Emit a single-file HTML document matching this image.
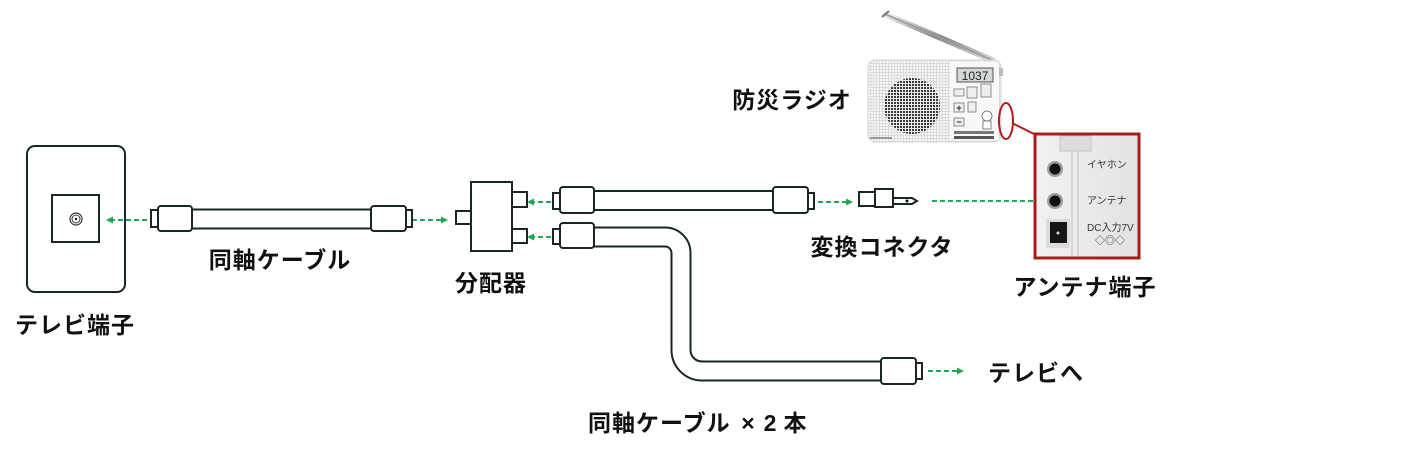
<!DOCTYPE html>
<html><head><meta charset="utf-8">
<style>
html,body{margin:0;padding:0;background:#fff;}
body{width:1421px;height:454px;overflow:hidden;}
svg{display:block;}
.t{font-family:"Liberation Sans","Noto Sans CJK JP",sans-serif;font-weight:bold;font-size:23px;fill:#111;letter-spacing:1px;}
.s{font-family:"Liberation Sans","Noto Sans CJK JP",sans-serif;font-size:10px;fill:#333;}
</style></head><body>
<svg width="1421" height="454" viewBox="0 0 1421 454" xmlns="http://www.w3.org/2000/svg">
<defs>
<pattern id="grid" width="3" height="3" patternUnits="userSpaceOnUse">
<rect width="3" height="3" fill="#f7f7f7"/><rect x="0" y="0" width="3" height="1" fill="#dadada"/><rect x="0" y="0" width="1" height="3" fill="#dadada"/>
</pattern>
<pattern id="spk" width="3" height="3" patternUnits="userSpaceOnUse">
<rect width="3" height="3" fill="#ececec"/><rect x="0" y="0" width="2" height="2" fill="#3a3a3a"/>
</pattern>
<linearGradient id="ant" x1="0" y1="0" x2="0" y2="1">
<stop offset="0" stop-color="#eee"/><stop offset="0.5" stop-color="#8a8a8a"/><stop offset="1" stop-color="#d8d8d8"/>
</linearGradient>
<linearGradient id="panel" x1="0" y1="0" x2="1" y2="0">
<stop offset="0" stop-color="#f2f2f2"/><stop offset="1" stop-color="#e2e2e2"/>
</linearGradient>
</defs>

<!-- TV wall plate -->
<rect x="27" y="146" width="98" height="146" rx="8" fill="#fff" stroke="#1b2526" stroke-width="2"/>
<rect x="52" y="195" width="47" height="47" fill="#fff" stroke="#1b2526" stroke-width="2"/>
<circle cx="76" cy="219" r="6" fill="none" stroke="#333" stroke-width="1.2"/>
<circle cx="76" cy="219" r="4" fill="none" stroke="#333" stroke-width="1"/>
<circle cx="76" cy="219" r="1.2" fill="#111"/>

<g stroke="#1fa84f" stroke-width="2" stroke-dasharray="5,3" fill="none">
<line x1="147" y1="220" x2="112" y2="220"/>
<line x1="412" y1="220" x2="442" y2="220"/>
<line x1="551" y1="202" x2="533" y2="202"/>
<line x1="551" y1="237" x2="533" y2="237"/>
<line x1="818" y1="202" x2="847" y2="202"/>
<line x1="932" y1="201" x2="1041" y2="201"/>
<line x1="928" y1="371" x2="958" y2="371"/>
</g>
<g fill="#1fa84f">
<polygon points="106,220 113,216.5 113,223.5"/>
<polygon points="448,220 441,216.5 441,223.5"/>
<polygon points="527,202 534,198.5 534,205.5"/>
<polygon points="527,237 534,233.5 534,240.5"/>
<polygon points="853,202 846,198.5 846,205.5"/>
<polygon points="1048,201 1041,197.5 1041,204.5"/>
<polygon points="964,371 957,367.5 957,374.5"/>
</g>

<!-- Left cable -->
<line x1="190" y1="219" x2="373" y2="219" stroke="#1b2526" stroke-width="21"/>
<line x1="190" y1="219" x2="373" y2="219" stroke="#fff" stroke-width="17"/>
<g fill="#fff" stroke="#1b2526" stroke-width="2">
<rect x="151" y="210" width="7" height="17"/>
<rect x="158" y="206" width="34" height="25" rx="3"/>
<rect x="406" y="210" width="6" height="17"/>
<rect x="371" y="206" width="35" height="25" rx="3"/>
</g>

<!-- Splitter -->
<g fill="#fff" stroke="#1b2526" stroke-width="2">
<rect x="456" y="211" width="15" height="13"/>
<rect x="512" y="192" width="15" height="15"/>
<rect x="512" y="229" width="15" height="14"/>
<rect x="471" y="182" width="41" height="69"/>
</g>

<!-- Top right cable -->
<line x1="592" y1="200.5" x2="775" y2="200.5" stroke="#1b2526" stroke-width="21"/>
<line x1="592" y1="200.5" x2="775" y2="200.5" stroke="#fff" stroke-width="17"/>
<g fill="#fff" stroke="#1b2526" stroke-width="2">
<rect x="553" y="193" width="7" height="16"/>
<rect x="560" y="187" width="34" height="26" rx="3"/>
<rect x="808" y="193" width="6" height="16"/>
<rect x="773" y="187" width="35" height="26" rx="3"/>
</g>

<!-- Bent cable -->
<path d="M592 237 H665 A16 16 0 0 1 681 253 V350 A21 21 0 0 0 702 371 H884" fill="none" stroke="#1b2526" stroke-width="21"/>
<path d="M592 237 H665 A16 16 0 0 1 681 253 V350 A21 21 0 0 0 702 371 H884" fill="none" stroke="#fff" stroke-width="17"/>
<g fill="#fff" stroke="#1b2526" stroke-width="2">
<rect x="553" y="229" width="7" height="15"/>
<rect x="560" y="223" width="34" height="25" rx="3"/>
<rect x="916" y="363" width="6" height="16"/>
<rect x="881" y="358" width="35" height="26" rx="3"/>
</g>

<!-- Conversion connector -->
<g fill="#fff" stroke="#1b2526" stroke-width="2">
<rect x="859" y="192" width="16" height="14"/>
<rect x="875" y="189" width="18" height="18"/>
<polygon points="893,198 912,198 917,201 912,204 893,204"/>
</g>
<circle cx="907" cy="201" r="1.5" fill="#111"/>

<!-- Radio -->
<line x1="885" y1="14" x2="992" y2="60" stroke="url(#ant)" stroke-width="6" stroke-linecap="round"/>
<line x1="885" y1="14" x2="992" y2="60" stroke="#999" stroke-width="1.5"/>
<line x1="882" y1="17" x2="889" y2="11" stroke="#777" stroke-width="2"/>
<rect x="868" y="60" width="133" height="82" rx="7" fill="url(#grid)" stroke="#d6d6d6" stroke-width="1"/>
<rect x="950" y="62" width="49" height="78" fill="#f8f8f8"/>
<circle cx="912" cy="106" r="28" fill="url(#spk)"/>
<rect x="957" y="68" width="36" height="14" fill="#d4d8d4" stroke="#555" stroke-width="1"/>
<text x="975" y="80" text-anchor="middle" font-family="Liberation Sans, sans-serif" font-size="12" fill="#222">1037</text>
<g fill="#eee" stroke="#777" stroke-width="0.8">
<rect x="954" y="89" width="10" height="7"/>
<rect x="967" y="87" width="10" height="11"/>
<rect x="981" y="84" width="10" height="13"/>
<rect x="954" y="103" width="10" height="9"/>
<rect x="954" y="118" width="10" height="8"/>
<rect x="968" y="102" width="8" height="10"/>
</g>
<text x="959" y="111" text-anchor="middle" font-family="Liberation Sans, sans-serif" font-size="9" font-weight="bold" fill="#222">+</text>
<text x="959" y="125" text-anchor="middle" font-family="Liberation Sans, sans-serif" font-size="9" font-weight="bold" fill="#222">−</text>
<circle cx="987" cy="116" r="5" fill="#fff" stroke="#666" stroke-width="0.8"/>
<rect x="983" y="121" width="8" height="8" fill="#fff" stroke="#666" stroke-width="0.8"/>
<rect x="954" y="131" width="40" height="3" fill="#777"/>
<rect x="954" y="136" width="40" height="3" fill="#555"/>
<rect x="870" y="137" width="22" height="2" fill="#999"/>
<rect x="999" y="68" width="4" height="8" fill="#bbb"/>
<ellipse cx="1006" cy="121" rx="7" ry="18" fill="none" stroke="#b01c1c" stroke-width="2"/>
<line x1="1012" y1="123" x2="1036" y2="135" stroke="#b01c1c" stroke-width="2"/>

<!-- Antenna terminal panel -->
<rect x="1035" y="134" width="104" height="124" fill="url(#panel)" stroke="#a81c1c" stroke-width="3"/>
<line x1="1072" y1="150" x2="1072" y2="256" stroke="#c8c8c8" stroke-width="1.2"/>
<line x1="1078" y1="150" x2="1078" y2="256" stroke="#c8c8c8" stroke-width="1.2"/>
<rect x="1060" y="136" width="31" height="15" fill="#dcdcdc" stroke="#c4c4c4" stroke-width="1"/>
<circle cx="1055" cy="169" r="8" fill="#9a9a9a"/>
<circle cx="1055" cy="169" r="5.5" fill="#111"/>
<circle cx="1055" cy="201" r="8" fill="#9a9a9a"/>
<circle cx="1055" cy="201" r="5.5" fill="#111"/>
<rect x="1046" y="219" width="24" height="29" fill="#dcdcdc"/>
<rect x="1050" y="222" width="17" height="21" fill="#151515"/>
<circle cx="1058" cy="233" r="1.5" fill="#ddd"/>
<text class="s" x="1087" y="168">イヤホン</text>
<text class="s" x="1087" y="204">アンテナ</text>
<text class="s" x="1087" y="231" font-size="10.5">DC入力7V</text>
<text class="s" x="1095" y="244" font-size="8">◇◎◇</text>

<!-- Labels -->
<text class="t" x="792" y="108" text-anchor="middle">防災ラジオ</text>
<text class="t" x="280" y="268" text-anchor="middle">同軸ケーブル</text>
<text class="t" x="75" y="333" text-anchor="middle">テレビ端子</text>
<text class="t" x="491" y="291" text-anchor="middle">分配器</text>
<text class="t" x="882" y="255" text-anchor="middle">変換コネクタ</text>
<text class="t" x="1085" y="295" text-anchor="middle">アンテナ端子</text>
<text class="t" x="1036" y="381" text-anchor="middle">テレビへ</text>
<text class="t" x="588" y="431">同軸ケーブル</text>
<text class="t" x="748" y="431" text-anchor="middle" style="letter-spacing:0">×</text>
<text class="t" x="770" y="431" text-anchor="middle" style="letter-spacing:0">2</text>
<text class="t" x="795" y="431" text-anchor="middle" style="letter-spacing:0">本</text>
</svg>
</body></html>
